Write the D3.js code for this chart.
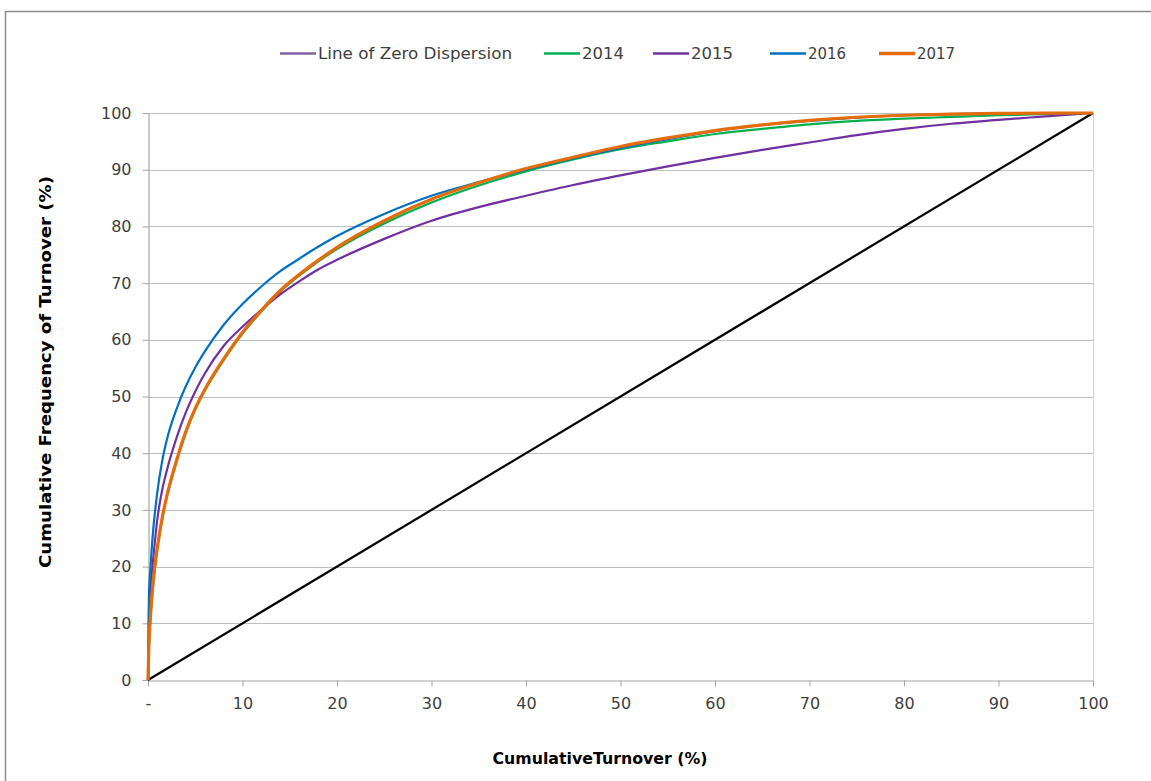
<!DOCTYPE html>
<html><head><meta charset="utf-8">
<script src="https://cdn.jsdelivr.net/npm/d3@7/dist/d3.min.js"></script>
<style>
html,body{margin:0;padding:0;background:#fff;}
svg text{font-family:"DejaVu Sans","Noto Sans",sans-serif;}
</style></head>
<body><svg id="c" width="1151" height="781"></svg>
<script>
// ---- data ----
const xTicks = [0,10,20,30,40,50,60,70,80,90,100];
const xTickLabels = ["-","10","20","30","40","50","60","70","80","90","100"];
const yTicks = [0,10,20,30,40,50,60,70,80,90,100];
const seriesNames = ["Line of Zero Dispersion","2014","2015","2016","2017"];

const xs = [0,0.1,0.25,0.5,1,1.5,2,3,4,5,6,8,10,12,14,16,18,20,25,30,35,40,45,50,55,60,65,70,75,80,85,90,95,100];
const zeroLine = [0,100];
const v2014 = [0,6,10.5,16,23.3,28.4,32.3,38.4,43.6,47.7,51.0,56.4,61.1,65.0,68.5,71.3,73.8,76.0,80.5,84.2,87.2,89.7,91.8,93.6,95.0,96.3,97.2,98.0,98.6,99.0,99.3,99.6,99.8,100];
const v2015 = [0,12,16,20.5,28.5,33.5,37,42.6,47.2,50.9,54.0,58.9,62.3,65.3,68.0,70.3,72.4,74.1,77.8,81.0,83.4,85.4,87.3,89.0,90.6,92.1,93.5,94.8,96.1,97.2,98.1,98.8,99.4,100];
const v2016 = [0,15,19.5,25.5,33.3,38.6,42.4,47.7,51.8,55.1,57.9,62.6,66.3,69.4,72.1,74.3,76.4,78.3,82.2,85.4,87.8,90.0,92.0,93.8,95.4,96.8,97.9,98.6,99.2,99.6,99.8,99.92,99.98,100];
const v2017 = [0,6.5,11,16.5,23.5,28.6,32.5,38.6,43.8,47.9,51.2,56.6,61.3,65.2,68.7,71.5,74.0,76.3,81.0,84.8,87.7,90.2,92.2,94.1,95.6,96.9,97.9,98.7,99.25,99.6,99.8,99.92,99.98,100];

// ---- layout ----
const svg = d3.select("#c");
const L = 148, R = 1093, T = 113, B = 680;
const x = d3.scaleLinear().domain([0,100]).range([L,R]);
const y = d3.scaleLinear().domain([0,100]).range([B,T]);

// outer frame
svg.append("path").attr("d","M5.5,781 L5.5,11.5 L1151,11.5")
  .attr("fill","none").attr("stroke","#8c8c8c").attr("stroke-width",1.5);

// gridlines
svg.append("g").selectAll("line").data(yTicks.filter(d=>d>0)).join("line")
  .attr("x1",L).attr("x2",R).attr("y1",d=>Math.round(y(d))+0.5).attr("y2",d=>Math.round(y(d))+0.5)
  .attr("stroke","#bfbfbf").attr("stroke-width",1.2);
svg.append("line").attr("x1",R+0.5).attr("x2",R+0.5).attr("y1",T).attr("y2",B)
  .attr("stroke","#d0d0d0").attr("stroke-width",1);

// axes
const xAxis = d3.axisBottom(x).tickValues(xTicks).tickFormat((d,i)=>xTickLabels[i]).tickSize(6).tickSizeOuter(0);
const gx = svg.append("g").attr("transform",`translate(0,${B+0.5})`).call(xAxis);
gx.select(".domain").attr("stroke","#a6a6a6").attr("stroke-width",1.2);
gx.selectAll(".tick line").attr("stroke","#a6a6a6");
gx.selectAll(".tick text").attr("fill","#404040").style("font-size","16px").style("font-family","'DejaVu Sans'").attr("dy","1.2em");

const yAxis = d3.axisLeft(y).tickValues(yTicks).tickSize(6).tickSizeOuter(0);
const gy = svg.append("g").attr("transform",`translate(${L+0.5},0)`).call(yAxis);
gy.select(".domain").attr("stroke","#a6a6a6").attr("stroke-width",1.2);
gy.selectAll(".tick line").attr("stroke","#a6a6a6");
gy.selectAll(".tick text").attr("fill","#404040").style("font-size","16px").style("font-family","'DejaVu Sans'").attr("x",-17);

// axis titles
svg.append("text").attr("x",600).attr("y",764).attr("text-anchor","middle")
  .style("font-size","16px").style("font-weight","bold").attr("fill","#000")
  .attr("textLength",215).attr("lengthAdjust","spacingAndGlyphs")
  .text("CumulativeTurnover (%)");
svg.append("text").attr("transform","translate(51,372) rotate(-90)").attr("text-anchor","middle")
  .style("font-size","16px").style("font-weight","bold").attr("fill","#000")
  .attr("textLength",392).attr("lengthAdjust","spacingAndGlyphs")
  .text("Cumulative Frequency of Turnover (%)");

// lines
const line = d3.line().x(d=>x(d[0])).y(d=>y(d[1])).curve(d3.curveMonotoneX);
const pts = vals => xs.map((xv,i)=>[xv, vals[i]]);
const drawn = [
  {data:[[0,zeroLine[0]],[100,zeroLine[1]]], color:"#000000", w:2.2},
  {data:pts(v2014), color:"#00b050", w:2.2},
  {data:pts(v2015), color:"#7030a0", w:2.2},
  {data:pts(v2016), color:"#0070c0", w:2.2},
  {data:pts(v2017), color:"#e46c0a", w:3.2}
];
svg.append("g").selectAll("path").data(drawn).join("path")
  .attr("d",d=>line(d.data)).attr("fill","none")
  .attr("stroke",d=>d.color).attr("stroke-width",d=>d.w).attr("stroke-linejoin","round");

// legend
const legendColors = ["#8064a2","#00b050","#7030a0","#0070c0","#e46c0a"];
const legendX = [280,544,653,770,879];
const legendW = [2.5,2.5,2.5,2.5,3.5];
const legendTL = [194,42,42,38,38];
const lg = svg.append("g");
seriesNames.forEach((n,i)=>{
  lg.append("line").attr("x1",legendX[i]).attr("x2",legendX[i]+36).attr("y1",53.5).attr("y2",53.5)
    .attr("stroke",legendColors[i]).attr("stroke-width",legendW[i]);
  lg.append("text").attr("x",legendX[i]+38).attr("y",59).style("font-size","16px").attr("fill","#404040")
    .attr("textLength",legendTL[i]).attr("lengthAdjust","spacingAndGlyphs").text(n);
});
</script></body></html>
